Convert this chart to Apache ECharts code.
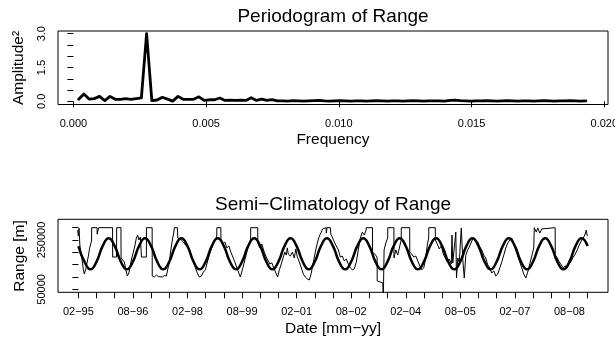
<!DOCTYPE html>
<html><head><meta charset="utf-8">
<script src="https://cdn.jsdelivr.net/npm/echarts@6/dist/echarts.min.js"></script>
<style>html,body{margin:0;padding:0;background:#fff}#c{width:615px;height:343px}</style>
</head><body><div id="c"></div>
<script>
// ---------- Periodogram ----------
const freq = [0.000197,0.000394,0.000591,0.000788,0.000985,0.001182,0.001379,0.001576,0.001773,0.00197,
0.002167,0.002364,0.002561,0.002758,0.002955,0.003152,0.003349,0.003546,0.003743,0.00394,
0.004137,0.004334,0.004531,0.004728,0.004925,0.005122,0.005319,0.005516,0.005713,0.00591,
0.006107,0.006304,0.006501,0.006698,0.006895,0.007092,0.007289,0.007486,0.007683,0.00788,
0.008077,0.008274,0.008471,0.008668,0.008865,0.009062,0.009259,0.009456,0.009653,0.00985,
0.010047,0.010244,0.010441,0.010638,0.010835,0.011032,0.011229,0.011426,0.011623,0.01182,
0.012017,0.012214,0.012411,0.012608,0.012805,0.013002,0.013199,0.013396,0.013593,0.01379,
0.013987,0.014184,0.014381,0.014578,0.014775,0.014972,0.015169,0.015366,0.015563,0.01576,
0.015957,0.016154,0.016351,0.016548,0.016745,0.016942,0.017139,0.017336,0.017533,0.01773,
0.017927,0.018124,0.018321,0.018518,0.018715,0.018912,0.019109,0.019306];
const amplitude = [0.09,0.33,0.10,0.12,0.22,0.03,0.22,0.09,0.09,0.12,
0.09,0.12,0.15,3.00,0.03,0.06,0.18,0.10,0.01,0.22,
0.09,0.09,0.09,0.20,0.04,0.07,0.07,0.15,0.04,0.05,
0.04,0.05,0.04,0.16,0.04,0.10,0.04,0.08,0.02,0.02,
0.01,0.03,0.02,0.01,0.02,0.03,0.04,0.02,0.01,0.02,
0.03,0.02,0.01,0.02,0.02,0.01,0.02,0.03,0.02,0.01,
0.02,0.02,0.01,0.02,0.03,0.02,0.01,0.02,0.02,0.02,
0.01,0.04,0.05,0.03,0.02,0.01,0.02,0.02,0.03,0.02,
0.01,0.02,0.03,0.02,0.01,0.02,0.02,0.01,0.02,0.03,
0.02,0.01,0.02,0.02,0.03,0.02,0.01,0.02];
const freqTicks = [0, 0.005, 0.010, 0.015, 0.020];
const ampTicks = [0, 0.5, 1.0, 1.5, 2.0, 2.5, 3.0];
const ampLabels = [0, 1.5, 3.0];

// ---------- Semi-climatology (months after Feb 1995) ----------
const rawMonths = [-0.23,0.0,0.23,0.49,0.82,1.32,1.65,1.98,2.47,2.97,
3.30,3.63,3.96,4.35,4.39,6.17,6.20,6.66,6.70,11.28,
11.31,12.60,12.63,14.05,14.08,14.68,15.17,15.67,16.16,16.66,
17.15,17.64,18.14,18.63,19.13,19.56,19.95,20.45,20.78,20.81,
22.43,22.46,24.34,24.37,25.07,25.73,26.39,27.04,27.70,28.36,
29.02,29.52,30.01,30.51,31.00,31.50,31.66,32.65,32.82,33.31,
33.97,34.63,35.29,35.95,36.61,37.27,37.93,38.59,39.25,39.91,
40.57,41.23,41.89,42.55,43.21,43.87,44.53,45.18,45.65,45.68,
47.00,47.03,47.66,48.32,48.98,49.64,50.30,50.96,51.62,52.27,
52.93,53.43,54.09,54.75,55.41,56.07,56.83,56.86,59.17,59.20,
59.86,60.52,61.18,61.84,62.50,63.16,63.82,64.48,65.14,65.73,
66.29,66.95,67.61,68.11,68.60,68.93,69.26,69.92,70.58,71.24,
71.73,72.23,72.89,73.55,74.21,74.87,75.53,76.19,76.85,77.51,
78.17,78.83,79.49,80.15,80.61,80.64,81.73,81.79,82.02,83.11,
83.28,83.77,84.43,85.09,85.75,86.41,87.07,87.73,88.39,89.05,
89.71,90.37,91.03,91.69,92.35,93.01,93.67,94.33,94.92,94.96,
97.03,97.06,97.79,98.55,98.58,100.43,100.59,100.86,101.42,102.05,
102.08,104.09,104.12,104.72,105.38,106.04,106.50,106.53,109.30,109.33,
109.99,110.65,111.31,111.97,112.63,113.29,113.95,114.61,115.11,115.57,
115.60,117.74,117.78,118.40,119.06,119.72,120.38,121.04,121.70,122.36,
123.02,123.25,123.51,124.01,124.51,124.74,125.17,125.66,126.32,126.82,
127.31,127.80,128.46,129.12,129.78,130.44,131.10,131.76,132.42,133.08,
133.74,134.40,135.06,135.72,136.38,137.04,137.70,138.36,139.02,139.68,
140.34,141.00,141.66,142.32,142.98,143.63,144.29,144.95,145.61,146.27,
146.93,147.59,148.25,148.91,149.57,150.23,150.40,151.06,151.55,152.21,
152.87,153.03,157.29,157.32,157.98,158.64,159.30,159.96,160.62,161.28,
161.94,162.60,163.26,163.92,164.58,165.24,165.90,166.56,167.05,167.55,167.88];
const rawRange = [290000,266000,298000,230000,201000,161000,129000,112000,133000,141000,
185000,210000,230000,246000,300000,300000,274000,274000,300000,300000,
181000,181000,300000,300000,177000,173000,161000,129000,104000,116000,
149000,177000,201000,226000,258000,270000,250000,262000,254000,181000,
181000,300000,300000,104000,100000,108000,102000,108000,100000,106000,
104000,112000,161000,210000,250000,282000,300000,300000,258000,266000,
250000,242000,230000,222000,210000,185000,161000,137000,116000,100000,
104000,120000,129000,161000,189000,214000,234000,250000,266000,300000,
300000,250000,234000,242000,218000,226000,201000,181000,161000,137000,
116000,100000,129000,161000,193000,226000,250000,300000,300000,238000,
218000,234000,206000,185000,169000,153000,157000,137000,116000,100000,
129000,153000,181000,201000,189000,218000,193000,185000,201000,177000,
214000,181000,161000,137000,112000,100000,92000,88000,116000,161000,
201000,238000,266000,282000,295000,300000,300000,278000,300000,300000,
274000,262000,242000,226000,210000,181000,185000,165000,173000,153000,
137000,129000,133000,161000,210000,258000,282000,270000,290000,300000,
300000,201000,193000,181000,84000,76000,7000,210000,238000,258000,
300000,300000,177000,210000,189000,226000,250000,300000,300000,201000,
193000,181000,185000,165000,145000,129000,137000,181000,230000,258000,
300000,300000,250000,234000,214000,226000,193000,177000,161000,173000,
153000,270000,157000,149000,282000,96000,177000,161000,299000,169000,
96000,189000,210000,226000,246000,258000,250000,242000,222000,210000,
189000,177000,149000,137000,116000,125000,104000,112000,137000,161000,
189000,218000,238000,250000,258000,234000,210000,185000,161000,137000,
112000,96000,120000,153000,185000,218000,300000,282000,299000,278000,
295000,300000,300000,189000,177000,161000,149000,137000,145000,137000,
153000,165000,181000,193000,210000,230000,246000,258000,270000,290000,266000];
const climMonths = [0,2,4,6,8,10,12,14,16,18,20,22,24,26,28,30,32,34,36,38,40,42,44,46,48,50,52,54,56,58,
60,62,64,66,68,70,72,74,76,78,80,82,84,86,88,90,92,94,96,98,100,102,104,106,108,110,112,114,116,118,
120,122,124,126,128,130,132,134,136,138,140,142,144,146,148,150,152,154,156,158,160,162,164,166,168];
const climRange = [225500,162500,131000,162500,225500,257000, 225500,162500,131000,162500,225500,257000,
225500,162500,131000,162500,225500,257000, 225500,162500,131000,162500,225500,257000,
225500,162500,131000,162500,225500,257000, 225500,162500,131000,162500,225500,257000,
225500,162500,131000,162500,225500,257000, 225500,162500,131000,162500,225500,257000,
225500,162500,131000,162500,225500,257000, 225500,162500,131000,162500,225500,257000,
225500,162500,131000,162500,225500,257000, 225500,162500,131000,162500,225500,257000,
225500,162500,131000,162500,225500,257000, 225500,162500,131000,162500,225500,257000,
225500];
const dateTicks = [0,6,12,18,24,30,36,42,48,54,60,66,72,78,84,90,96,102,108,114,120,126,132,138,144,150,156,162,168];
const dateLabelMonths = [0,18,36,54,72,90,108,126,144,162];
const dateLabels = ["02\u221295","08\u221296","02\u221298","08\u221299","02\u221201","08\u221202","02\u221204","08\u221205","02\u221207","08\u221208"];
const rangeTicks = [50000,100000,150000,200000,250000,300000];
const rangeLabels = [50000,250000];

const FF = '"Liberation Sans", Arial, Helvetica, sans-serif';
const chart = echarts.init(document.getElementById('c'), null, {renderer:'canvas'});
const zip = (a,b) => a.map((x,i)=>[x,b[i]]);
const tickStyle = {lineStyle:{color:'#000', width:1}};
const labStyle = {color:'#000', fontSize:11, fontFamily:FF};

chart.setOption({
  animation:false,
  backgroundColor:'#fff',
  grid:[
    {left:58, right:7, top:31, height:73.5, show:true, borderColor:'#000', borderWidth:1, backgroundColor:'transparent', containLabel:false, outerBoundsMode:'none'},
    {left:58, right:7, top:219.3, height:73, show:true, borderColor:'#000', borderWidth:1, backgroundColor:'transparent', containLabel:false, outerBoundsMode:'none'}
  ],
  xAxis:[
    {type:'value', gridIndex:0, min:-0.00058, max:0.02014,
     axisLine:{show:false}, splitLine:{show:false},
     axisTick:Object.assign({show:true, inside:false, length:6, customValues:freqTicks}, tickStyle),
     axisLabel:Object.assign({customValues:freqTicks, formatter:v=>Number(v).toFixed(3), margin:14}, labStyle)},
    {type:'value', gridIndex:1, min:-6.72, max:174.72,
     axisLine:{show:false}, splitLine:{show:false},
     axisTick:Object.assign({show:true, inside:false, length:6, customValues:dateTicks}, tickStyle),
     axisLabel:Object.assign({customValues:dateLabelMonths, formatter:v=>{const i=dateLabelMonths.indexOf(Math.round(v)); return i>=0?dateLabels[i]:'';}, margin:14}, labStyle)}
  ],
  yAxis:[
    {type:'value', gridIndex:0, min:-0.14, max:3.12,
     axisLine:{show:false}, splitLine:{show:false},
     axisTick:Object.assign({show:true, inside:false, length:6, customValues:ampTicks}, tickStyle),
     axisLabel:Object.assign({customValues:ampLabels, formatter:v=>Number(v).toFixed(1), rotate:90, margin:11}, labStyle)},
    {type:'value', gridIndex:1, min:38000, max:334000,
     axisLine:{show:false}, splitLine:{show:false},
     axisTick:Object.assign({show:true, inside:false, length:6, customValues:rangeTicks}, tickStyle),
     axisLabel:Object.assign({customValues:rangeLabels, formatter:v=>String(Math.round(v)), rotate:90, margin:11}, labStyle)}
  ],
  series:[
    {type:'line', xAxisIndex:0, yAxisIndex:0, data:zip(freq, amplitude), symbol:'none', showSymbol:false,
     lineStyle:{color:'#000', width:2.8, join:'round', cap:'round'}, clip:true},
    {type:'line', xAxisIndex:1, yAxisIndex:1, data:zip(rawMonths, rawRange), symbol:'none', showSymbol:false,
     lineStyle:{color:'#000', width:1}, clip:true},
    {type:'line', xAxisIndex:1, yAxisIndex:1, data:zip(climMonths, climRange), symbol:'none', showSymbol:false, smooth:0.5,
     lineStyle:{color:'#000', width:2.5}, clip:true}
  ],
  graphic:[
    {type:'text', x:333, y:16.5, style:{text:'Periodogram of Range', font:'19px '+FF, fill:'#000', textAlign:'center', textVerticalAlign:'middle'}},
    {type:'text', x:333, y:140, style:{text:'Frequency', font:'15.5px '+FF, fill:'#000', textAlign:'center', textVerticalAlign:'middle'}},
    {type:'text', x:19, y:68, rotation:Math.PI/2, style:{text:'Amplitude\u00B2', font:'15.5px '+FF, fill:'#000', textAlign:'center', textVerticalAlign:'middle'}},
    {type:'text', x:333, y:205, style:{text:'Semi\u2212Climatology of Range', font:'19px '+FF, fill:'#000', textAlign:'center', textVerticalAlign:'middle'}},
    {type:'text', x:333, y:329, style:{text:'Date [mm\u2212yy]', font:'15.5px '+FF, fill:'#000', textAlign:'center', textVerticalAlign:'middle'}},
    {type:'text', x:20, y:256, rotation:Math.PI/2, style:{text:'Range [m]', font:'15.5px '+FF, fill:'#000', textAlign:'center', textVerticalAlign:'middle'}}
  ]
});
</script></body></html>
